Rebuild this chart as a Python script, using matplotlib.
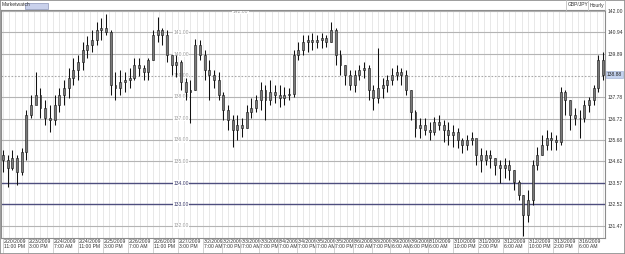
import numpy as np
import matplotlib
matplotlib.use("Agg")
import matplotlib.pyplot as plt
from matplotlib.patches import Rectangle
from matplotlib.transforms import ScaledTranslation, blended_transform_factory

plt.rcParams['font.family'] = ['Liberation Sans', 'DejaVu Sans']

# hourly GBP/JPY, one candle per 3 bars (bar index = 3*k)
high = [135.19, 134.95, 135.19, 134.95, 135.29, 137.15, 137.89, 139.01, 138.23, 137.64,
        137.40, 137.89, 138.23, 138.62, 139.21, 139.70, 139.85, 140.48, 140.78, 141.07,
        141.46, 141.66, 141.85, 141.07, 139.01, 139.11, 139.01, 139.21, 139.70, 139.70,
        139.36, 139.70, 141.07, 141.71, 141.17, 141.07, 139.85, 139.85, 139.60, 138.72,
        138.62, 140.63, 140.58, 140.09, 139.60, 139.11, 139.01, 138.03, 137.40, 136.91,
        136.91, 136.76, 137.40, 137.74, 137.89, 138.52, 138.38, 138.62, 138.38, 138.38,
        138.28, 138.23, 140.09, 140.48, 140.83, 140.83, 140.92, 140.83, 140.92, 140.83,
        141.46, 141.17, 140.09, 139.36, 139.11, 139.11, 139.36, 139.50, 139.36, 138.38,
        140.19, 138.72, 138.87, 139.21, 139.36, 139.21, 139.11, 138.13, 137.15, 136.76,
        136.76, 136.56, 136.81, 136.91, 136.66, 136.56, 136.42, 136.27, 135.78, 135.93,
        136.07, 135.68, 135.29, 135.19, 135.19, 134.80, 134.70, 134.80, 134.70, 134.21,
        133.72, 132.99, 133.23, 134.70, 135.34, 135.93, 136.17, 136.07, 135.93, 138.28,
        138.13, 137.64, 137.25, 137.15, 137.64, 137.79, 138.38, 139.85, 140.00]
low = [134.11, 133.38, 134.21, 133.48, 133.97, 134.70, 136.76, 137.54, 136.76, 136.42,
       136.07, 136.42, 137.05, 137.40, 137.74, 138.38, 138.62, 139.11, 139.70, 140.00,
       140.34, 140.58, 140.83, 137.89, 137.64, 137.89, 138.03, 138.23, 138.62, 138.82,
       138.62, 138.62, 139.60, 140.48, 140.34, 139.50, 138.87, 138.77, 138.13, 137.64,
       136.51, 138.13, 139.60, 138.62, 137.64, 138.23, 137.64, 136.66, 136.17, 135.34,
       135.68, 135.83, 136.27, 136.76, 137.05, 137.15, 136.66, 137.40, 137.49, 137.30,
       137.40, 137.64, 137.79, 139.60, 139.85, 140.00, 140.09, 140.19, 140.19, 140.24,
       140.48, 139.36, 138.87, 138.38, 138.13, 138.03, 138.62, 138.72, 137.64, 137.15,
       137.49, 137.74, 138.03, 138.38, 138.62, 138.38, 137.89, 136.66, 135.83, 135.78,
       135.93, 135.68, 135.93, 136.17, 135.58, 135.44, 135.34, 135.29, 135.04, 135.19,
       135.44, 134.46, 134.11, 134.46, 134.31, 133.97, 133.57, 133.82, 133.72, 133.23,
       132.74, 130.98, 131.66, 132.50, 134.21, 134.95, 135.19, 135.19, 135.19, 135.44,
       136.91, 136.17, 136.42, 135.78, 136.56, 137.05, 137.40, 138.03, 138.62]
close = [134.70, 134.31, 134.80, 134.11, 135.09, 136.91, 137.40, 137.89, 137.25, 136.76,
         136.66, 137.40, 137.89, 138.23, 138.72, 139.11, 139.50, 140.09, 140.34, 140.58,
         141.07, 141.17, 140.97, 138.38, 138.23, 138.52, 138.62, 138.72, 139.36, 139.21,
         139.01, 139.60, 140.83, 141.07, 140.83, 139.85, 139.36, 139.50, 138.52, 138.03,
         138.13, 140.34, 139.85, 139.11, 138.87, 138.62, 137.89, 137.15, 136.66, 136.17,
         136.42, 136.27, 137.05, 137.25, 137.64, 138.13, 137.64, 138.03, 137.89, 137.74,
         137.89, 137.93, 139.85, 140.09, 140.48, 140.58, 140.48, 140.58, 140.68, 140.48,
         141.07, 139.85, 139.36, 138.87, 138.38, 138.87, 139.11, 139.21, 138.13, 137.74,
         138.23, 138.38, 138.62, 138.87, 139.01, 138.87, 138.13, 137.05, 136.27, 136.42,
         136.17, 136.07, 136.56, 136.42, 136.17, 135.93, 136.07, 135.68, 135.44, 135.68,
         135.78, 134.95, 134.70, 134.95, 134.80, 134.46, 134.31, 134.46, 134.21, 133.62,
         132.99, 132.01, 132.74, 134.46, 134.95, 135.44, 135.78, 135.68, 135.58, 138.03,
         137.64, 136.91, 136.76, 136.76, 137.40, 137.64, 138.23, 139.60, 138.88]
first_open = 134.95
bid = 138.88

level_values = [142.00, 140.95, 139.89, 138.84, 137.79, 136.73, 135.68, 134.63, 133.57, 132.52, 131.47]
level_labels = ["142.00", "140.94", "139.89", "", "137.78", "136.72", "135.68", "134.62", "133.57", "132.52", "131.47"]
inner_labels = ["142.00", "141.00", "140.00", "139.00", "138.00", "137.00", "136.00", "135.00", "134.00", "133.00", "132.00"]

tick_bars = [0, 16, 32, 48, 64, 80, 96, 112, 128, 140, 152, 164, 176, 188, 200, 212, 224, 236,
             248, 260, 272, 288, 304, 320, 336, 352, 368]
tick_labels = ["2/20/2009\n11:00 PM", "2/23/2009\n3:00 PM", "2/24/2009\n7:00 AM", "2/24/2009\n11:00 PM",
               "2/25/2009\n3:00 PM", "2/26/2009\n7:00 AM", "2/26/2009\n11:00 PM", "2/27/2009\n3:00 PM",
               "3/2/2009\n7:00 AM", "3/2/2009\n7:00 PM", "3/3/2009\n7:00 AM", "3/3/2009\n7:00 PM",
               "3/4/2009\n7:00 AM", "3/4/2009\n7:00 PM", "3/5/2009\n7:00 AM", "3/5/2009\n7:00 PM",
               "3/6/2009\n7:00 AM", "3/8/2009\n7:00 PM", "3/9/2009\n6:00 AM", "3/9/2009\n6:00 PM",
               "3/10/2009\n6:00 AM", "3/10/2009\n10:00 PM", "3/11/2009\n2:00 PM", "3/12/2009\n6:00 AM",
               "3/12/2009\n10:00 PM", "3/13/2009\n2:00 PM", "3/16/2009\n6:00 AM"]

FS = 3.6
fig = plt.figure(figsize=(6.25, 2.54), dpi=100)
ax = fig.add_axes([1 / 625, 16 / 254, 604 / 625, 228 / 254])
ax.set_xlim(-1.28, 385.3)
ax.set_ylim(130.878, 142.05)

# vertical grid every 4 hours
for g in range(0, 388, 4):
    ax.axvline(g, color='#e8e8e8', lw=0.7, zorder=0)

# horizontal levels
for i, v in enumerate(level_values):
    if i == 3:
        ax.axhline(v, color='#a8a8a8', lw=0.8, ls=(0, (1.5, 1.5)), zorder=1)
    elif i in (8, 9):
        ax.axhline(v, color='#4e4e7e', lw=1.0, zorder=1)
    else:
        ax.axhline(v, color='#b4b4b4', lw=0.8, zorder=1)

for i, (v, s) in enumerate(zip(level_values, inner_labels)):
    xpos = 152 if i == 0 else 114
    col = '#3a3a6a' if i in (8, 9) else '#9a9a9a'
    ax.text(xpos, v, s, fontsize=FS, color=col, ha='center', va='center', zorder=2, clip_on=True,
            bbox=dict(facecolor='white', edgecolor='none', pad=0.3))

# candles
idx = np.arange(len(close)) * 3
opens = np.array([first_open] + close[:-1])
cl = np.array(close)
ax.vlines(idx, low, high, color='#111111', lw=0.75, zorder=3)
ax.bar(idx, cl - opens, bottom=opens, width=1.25, color='#7a7a7a', edgecolor='#111111', lw=0.4, zorder=4)

# axes
for side in ['left', 'right', 'top', 'bottom']:
    ax.spines[side].set_color('#8c8c8c')
    ax.spines[side].set_linewidth(0.8)
ax.yaxis.tick_right()
ax.set_yticks(level_values)
ax.set_yticklabels(level_labels)
ax.tick_params(axis='y', length=0, pad=2.2, labelsize=FS, labelcolor='#333333')
ax.set_xticks(tick_bars)
ax.set_xticklabels(tick_labels, ha='left', va='top')
ax.tick_params(axis='x', length=10.5, width=0.6, color='#cccccc', pad=-10.0, labelsize=FS,
               labelcolor='#333333')
for lbl in ax.get_xticklabels():
    lbl.set_linespacing(1.15)
    lbl.set_transform(lbl.get_transform() + ScaledTranslation(1.2 / 100, 0, fig.dpi_scale_trans))

# current price tag
tr = blended_transform_factory(ax.transAxes, ax.transData)
ax.text(1.0035, bid, "138.88", transform=tr, fontsize=FS, color='#222222', ha='left', va='center',
        clip_on=False, bbox=dict(facecolor='#c4d2ee', edgecolor='#9aaad0', lw=0.4, pad=0.6))

# title bar
fig.text(2 / 625, 1 - 5 / 254, "Marketwatch", fontsize=FS, color='#333333', ha='left', va='center')
fig.patches.append(Rectangle((25 / 625, 1 - 8.5 / 254), 23 / 625, 6 / 254, transform=fig.transFigure,
                             facecolor='#c9d1ec', edgecolor='#8c96b8', lw=0.5))
fig.text(568 / 625, 1 - 5 / 254, "GBP/JPY", fontsize=FS, color='#333333', ha='left', va='center')
fig.text(590 / 625, 1 - 5 / 254, "Hourly", fontsize=FS, color='#333333', ha='left', va='center')
for sx in [566, 588, 605]:
    fig.add_artist(plt.Line2D([sx / 625, sx / 625], [1 - 10 / 254, 1], transform=fig.transFigure,
                              color='#c0c0c0', lw=0.6))
fig.patches.append(Rectangle((0, 0), 1, 1, transform=fig.transFigure, fill=False,
                             edgecolor='#8c8c8c', lw=1.2))

fig.savefig("out.png", dpi=100)
